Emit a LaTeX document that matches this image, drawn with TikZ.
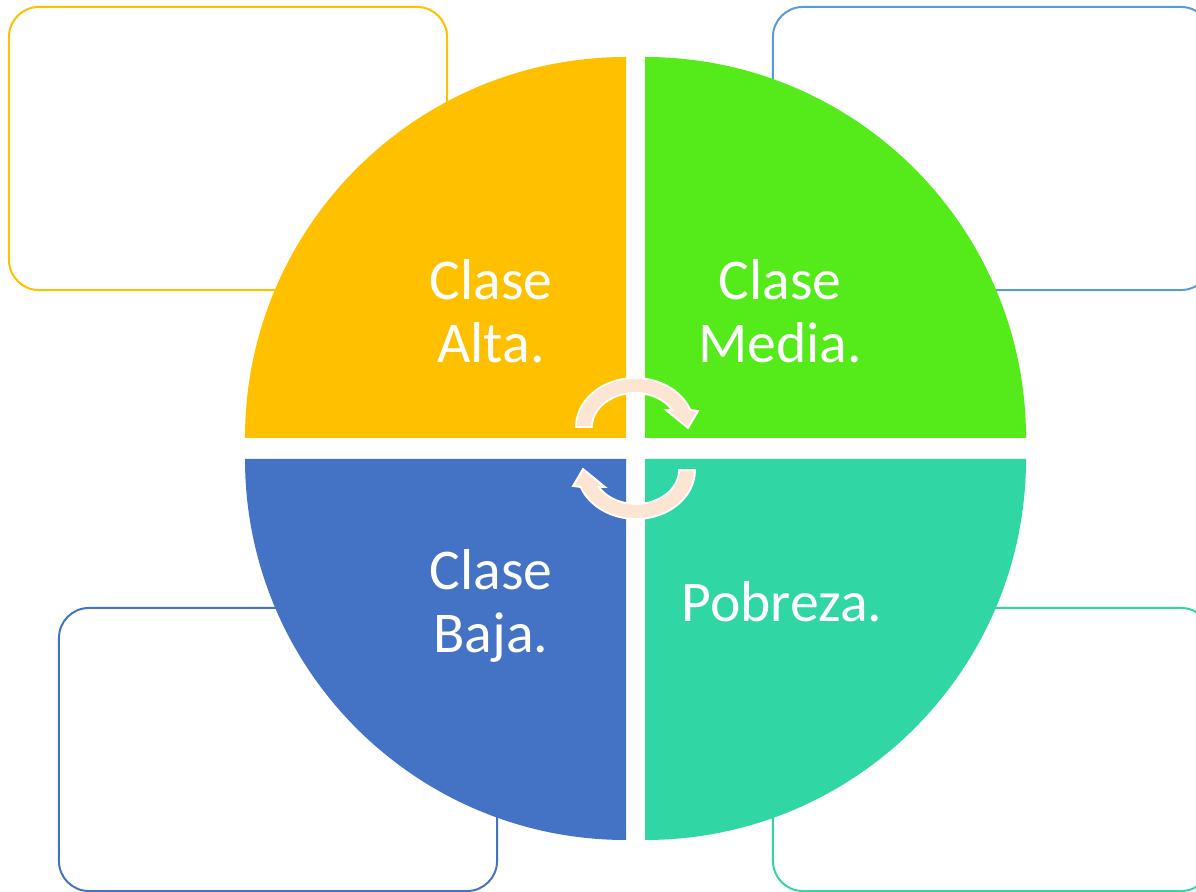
\documentclass[tikz,border=0pt]{standalone}
\usepackage{fontspec}
\setmainfont{Carlito}
\definecolor{cyel}{HTML}{FFC000}
\definecolor{cgrn}{HTML}{55EB1B}
\definecolor{cblu}{HTML}{4472C4}
\definecolor{cteal}{HTML}{30D7A4}
\definecolor{cbox}{HTML}{5B9BD5}
\definecolor{cpeach}{HTML}{FCE5D2}
\begin{document}
\begin{tikzpicture}[x=0.025cm,y=0.025cm,
  sidebox/.style={draw, line width=1.4pt, rounded corners=0.75cm, minimum width=10.95cm, minimum height=7.075cm, fill=white, inner sep=0pt},
  label/.style={text=white, align=center, font=\fontsize{41}{45.5}\selectfont, inner sep=0pt, anchor=base},
  cyc/.style={fill=cpeach, draw=white, line width=1.3pt, line join=miter}]
\useasboundingbox (0,0) rectangle (1196,892);
\fill[white] (0,0) rectangle (1196,892);
% side boxes
\node[sidebox, draw=cyel]  (bTL) at (228,743.5) {};
\node[sidebox, draw=cbox]  (bTR) at (992,743.5) {};
\node[sidebox, draw=cblu]  (bBL) at (278,142.5) {};
\node[sidebox, draw=cteal] (bBR) at (992,142.5) {};
% sectors
\fill[cyel]  (626,454) -- (245,454) arc[start angle=180, end angle=90, radius=381] -- cycle;
\fill[cgrn]  (645,454) -- (645,835) arc[start angle=90, end angle=0, radius=381] -- cycle;
\fill[cblu]  (626,433) -- (245,433) arc[start angle=180, end angle=270, radius=381] -- cycle;
\fill[cteal] (645,433) -- (1026,433) arc[start angle=0, end angle=-90, radius=381] -- cycle;
% cycle arrows
\path[cyc] (576,465) arc[start angle=180, end angle=20.3, x radius=59, y radius=49]
  -- (698,481) -- (688,464) -- (666,482) -- (672.2,482)
  arc[start angle=30, end angle=180, x radius=43, y radius=34] -- cycle;
\begin{scope}[rotate around={180:(635.5,443.5)}]
\path[cyc] (576,465) arc[start angle=180, end angle=20.3, x radius=59, y radius=49]
  -- (698,481) -- (688,464) -- (666,482) -- (672.2,482)
  arc[start angle=30, end angle=180, x radius=43, y radius=34] -- cycle;
\end{scope}
% labels
\node[label] (tAlta)  at (491,529) {Clase\\Alta.};
\node[label] (tMedia) at (780,529) {Clase\\Media.};
\node[label] (tBaja)  at (491,239) {Clase\\Baja.};
\node[label] (tPob)   at (782,270) {Pobreza.};
\end{tikzpicture}
\end{document}
